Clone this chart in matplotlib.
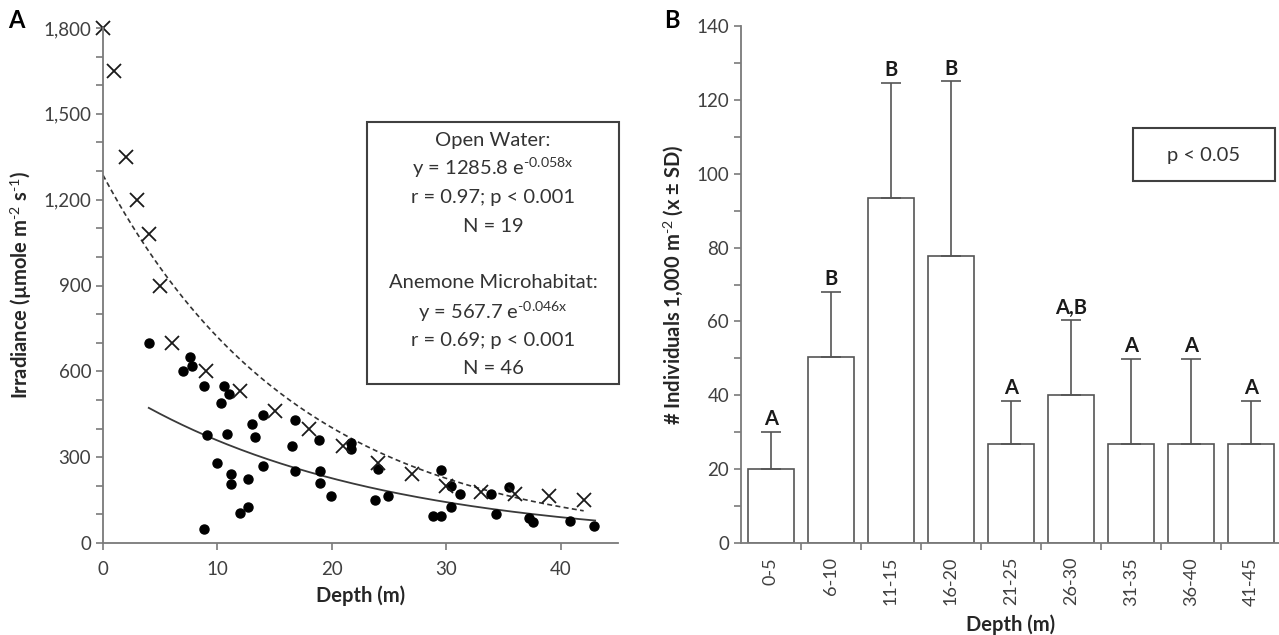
import numpy as np
import matplotlib
matplotlib.use("Agg")
import matplotlib.pyplot as plt
from matplotlib.patches import Rectangle
from matplotlib.ticker import MultipleLocator, FuncFormatter

plt.rcParams['font.family'] = ['Lato', 'DejaVu Sans']
plt.rcParams['mathtext.fontset'] = 'custom'
plt.rcParams['mathtext.rm'] = 'Lato'
plt.rcParams['mathtext.bf'] = 'Lato:bold'
plt.rcParams['mathtext.it'] = 'Lato:italic'

# panel A data: open water (crosses)
ow_depth = [0, 1, 2, 3, 4, 5, 6, 9, 12, 15, 18, 21, 24, 27, 30, 33, 36, 39, 42]
ow_irr = [1800, 1650, 1350, 1200, 1080, 900, 700, 600, 530, 460, 400, 340, 280,
          240, 200, 180, 170, 163, 150]

# anemone microhabitat (dots)
an_depth = [4.0, 7.6, 7.0, 7.8, 8.8, 10.3, 10.6, 11.0, 9.1, 10.8, 10.0, 11.2, 11.2,
            8.8, 12.0, 12.7, 12.7, 13.0, 13.3, 14.0, 14.0, 16.8, 16.5, 16.8, 18.9,
            19.0, 19.0, 19.9, 21.7, 21.7, 23.8, 24.0, 24.9, 28.8, 29.5, 29.5, 30.4,
            30.4, 31.2, 33.9, 34.3, 35.5, 37.2, 37.6, 40.8, 42.9]
an_irr = [700, 650, 600, 620, 550, 490, 550, 520, 378, 380, 280, 240, 205,
          50, 105, 125, 225, 415, 370, 448, 270, 430, 340, 250, 360,
          250, 208, 165, 350, 330, 150, 260, 165, 95, 95, 255, 200,
          125, 170, 170, 100, 195, 88, 72, 78, 60]

# fitted curves
ow_a, ow_b, ow_range = 1285.8, 0.058, (0, 42)
an_a, an_b, an_range = 567.7, 0.046, (4, 43)

# panel B data
groups = ['0-5', '6-10', '11-15', '16-20', '21-25', '26-30', '31-35', '36-40', '41-45']
means = [20.0, 50.5, 93.3, 77.8, 26.7, 40.0, 26.7, 26.7, 26.7]
sds = [10.0, 17.5, 31.2, 47.2, 11.7, 20.3, 23.2, 23.2, 11.7]
letters = ['A', 'B', 'B', 'B', 'A', 'A,B', 'A', 'A', 'A']

W, H = 1279, 635
fig = plt.figure(figsize=(W / 100, H / 100), dpi=100)

def fbox(x0, y0, x1, y1):
    # pixel box -> figure fraction rect
    return [x0 / W, 1 - y1 / H, (x1 - x0) / W, (y1 - y0) / H]

spine_c = '#7a7a7a'
tick_c = '#404040'
lab_c = '#262626'

def style_axes(ax):
    for s in ['top', 'right']:
        ax.spines[s].set_visible(False)
    for s in ['left', 'bottom']:
        ax.spines[s].set_color(spine_c)
        ax.spines[s].set_linewidth(1.3)
    ax.tick_params(which='both', direction='out', color=spine_c, width=1.2,
                   length=5, labelcolor=tick_c, labelsize=13.5)

# ---------- panel A ----------
axA = fig.add_axes(fbox(103, 28, 618, 543))
style_axes(axA)
xx = np.linspace(*ow_range, 200)
axA.plot(xx, ow_a * np.exp(-ow_b * xx), ls=(0, (3, 2)), color='#333333', lw=1.2)
xx = np.linspace(*an_range, 200)
axA.plot(xx, an_a * np.exp(-an_b * xx), color='#3a3a3a', lw=1.3)
axA.plot(an_depth, an_irr, 'o', color='black', ms=6.5, clip_on=False)
axA.plot(ow_depth, ow_irr, 'x', color='#1a1a1a', ms=10, mew=1.3, clip_on=False)
axA.set_xlim(0, 45)
axA.set_ylim(0, 1800)
axA.xaxis.set_major_locator(MultipleLocator(10))
axA.yaxis.set_major_locator(MultipleLocator(300))
axA.yaxis.set_minor_locator(MultipleLocator(100))
axA.yaxis.set_major_formatter(FuncFormatter(lambda v, p: f'{int(v):,}'))
axA.tick_params(axis='x', pad=8)
axA.set_xlabel('Depth (m)', fontsize=14.5, fontweight='bold', color=lab_c, labelpad=5)
axA.set_ylabel(r'Irradiance (µmole m$^{\mathbf{\text{-2}}}$ s$^{\mathbf{\text{-1}}}$)', fontsize=14.5,
               fontweight='bold', color=lab_c, labelpad=7)

# annotation box A
fig.add_artist(Rectangle((367 / W, 1 - 384 / H), (619 - 367) / W, (384 - 122) / H,
                         transform=fig.transFigure, fill=False, ec='#404040', lw=1.5))
boxA_lines = [('Open Water:', 140),
              (r'y = 1285.8 e$^{\text{-0.058x}}$', 168),
              ('r = 0.97; p < 0.001', 197),
              ('N = 19', 226),
              ('Anemone Microhabitat:', 283),
              (r'y = 567.7 e$^{\text{-0.046x}}$', 312),
              ('r = 0.69; p < 0.001', 340),
              ('N = 46', 369)]
for txt, py in boxA_lines:
    fig.text(493 / W, 1 - py / H, txt, ha='center', va='center', fontsize=14.5, color='#333333')

fig.text(8 / W, 1 - 21 / H, 'A', fontsize=17, fontweight='bold', va='center', ha='left')

# ---------- panel B ----------
axB = fig.add_axes(fbox(741, 26, 1281, 543))
style_axes(axB)
x = np.arange(len(groups))
axB.bar(x, means, width=0.76, color='white', edgecolor='#555555', lw=1.2)
axB.errorbar(x, means, yerr=[np.zeros(len(sds)), sds], fmt='none', ecolor='#555555',
             elinewidth=1.2, capsize=7, capthick=1.2)
for xi, m, s, l in zip(x, means, sds, letters):
    axB.annotate(l, (xi, m + s), xytext=(0, 2), textcoords='offset points',
                 ha='center', va='bottom', fontsize=14.5, fontweight='bold', color='#1a1a1a')
axB.set_xlim(-0.5, len(groups) - 0.5)
axB.set_ylim(0, 140)
axB.set_xticks(x + 0.5)
axB.set_xticks(x, minor=True)
axB.set_xticklabels([])
axB.set_xticklabels(groups, minor=True, rotation=90)
axB.tick_params(axis='x', which='minor', length=0, pad=10, labelsize=13)
axB.yaxis.set_major_locator(MultipleLocator(20))
axB.yaxis.set_minor_locator(MultipleLocator(10))
axB.set_xlabel('Depth (m)', fontsize=14.5, fontweight='bold', color=lab_c)
axB.xaxis.set_label_coords(0.5, -(614 - 543) / 517)
axB.set_ylabel(r'# Individuals 1,000 m$^{\mathbf{\text{-2}}}$ (x ± SD)', fontsize=14.5,
               fontweight='bold', color=lab_c, labelpad=8)

fig.add_artist(Rectangle((1133 / W, 1 - 181 / H), (1275 - 1133) / W, (181 - 128) / H,
                         transform=fig.transFigure, fill=False, ec='#404040', lw=1.5))
fig.text(1204 / W, 1 - 155 / H, 'p < 0.05', ha='center', va='center', fontsize=14.5, color='#333333')

fig.text(664 / W, 1 - 21 / H, 'B', fontsize=17, fontweight='bold', va='center', ha='left')

fig.savefig('out.png', dpi=100)
